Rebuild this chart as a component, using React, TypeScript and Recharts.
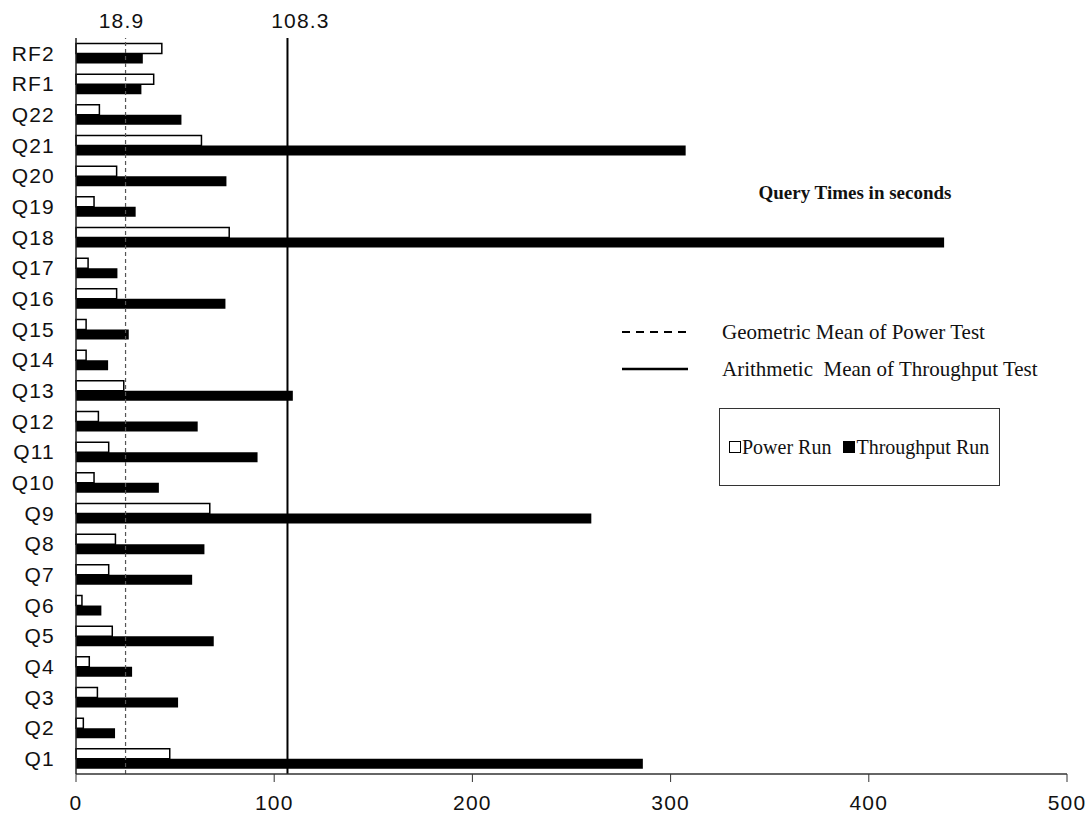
import React from 'react';
import { BarChart, Bar, XAxis, YAxis, ReferenceLine, Legend } from 'recharts';

const categories = ['Q1', 'Q2', 'Q3', 'Q4', 'Q5', 'Q6', 'Q7', 'Q8', 'Q9', 'Q10', 'Q11', 'Q12', 'Q13', 'Q14', 'Q15', 'Q16', 'Q17', 'Q18', 'Q19', 'Q20', 'Q21', 'Q22', 'RF1', 'RF2'];
const powerRun = [47.3, 3.7, 10.8, 6.7, 18.3, 3.0, 16.5, 19.9, 67.5, 9.1, 16.5, 11.3, 24.1, 5.1, 5.1, 20.5, 6.1, 77.3, 9.1, 20.5, 63.3, 11.8, 39.2, 43.3];
const throughputRun = [286, 19.7, 51.5, 28.3, 69.5, 12.8, 58.6, 64.8, 260, 41.8, 91.6, 61.4, 109.4, 16.2, 26.6, 75.4, 20.9, 438, 30.1, 75.9, 307.6, 53.2, 33.0, 33.7];
const xTicks = [0, 100, 200, 300, 400, 500];
const meanLinePositions = [25, 106.7];
const meanLineLabels = ['18.9', '108.3'];
const seriesNames = ['Power Run', 'Throughput Run'];
const lineKeyTexts = ['Geometric Mean of Power Test', 'Arithmetic  Mean of Throughput Test'];
const titleText = 'Query Times in seconds';

const data = categories.map((q, i) => ({ q, power: powerRun[i], throughput: throughputRun[i] }));

const SANS = '"Liberation Sans", Arial, sans-serif';
const SERIF = '"Liberation Serif", "Times New Roman", serif';

function MeanLabel(props: any) {
  const { viewBox, text, shift } = props;
  if (!viewBox) return null;
  return (
    <text x={viewBox.x + shift} y={viewBox.y - 10} textAnchor="middle" fontFamily={SANS} fontSize={21} letterSpacing={1.2} fill="#111">
      {text}
    </text>
  );
}

function KeyPanel(props: any) {
  const payload = props.payload || [];
  return (
    <div style={{ position: 'relative', width: 420, height: 330, fontFamily: SERIF, color: '#111' }}>
      <div style={{ position: 'absolute', left: 105, width: 300, top: 11, textAlign: 'center', fontSize: 19, fontWeight: 'bold', lineHeight: '24px' }}>
        {titleText}
      </div>
      <svg style={{ position: 'absolute', left: 22, top: 158 }} width={68} height={8}>
        <line x1={0} y1={4} x2={66} y2={4} stroke="#000" strokeWidth={2} strokeDasharray="8 6" />
      </svg>
      <div style={{ position: 'absolute', left: 122, top: 149, fontSize: 21, lineHeight: '26px', whiteSpace: 'pre' }}>{lineKeyTexts[0]}</div>
      <svg style={{ position: 'absolute', left: 22, top: 195 }} width={68} height={8}>
        <line x1={0} y1={4} x2={66} y2={4} stroke="#000" strokeWidth={2.4} />
      </svg>
      <div style={{ position: 'absolute', left: 122, top: 186, fontSize: 21, lineHeight: '26px', whiteSpace: 'pre' }}>{lineKeyTexts[1]}</div>
      <div style={{ position: 'absolute', left: 119, top: 238, width: 281, height: 78, boxSizing: 'border-box', border: '1px solid #333', display: 'flex', alignItems: 'center', paddingLeft: 9, fontSize: 20, whiteSpace: 'pre' }}>
        {payload.map((entry: any, i: number) => (
          <span key={i} style={{ display: 'inline-flex', alignItems: 'center', marginRight: i === 0 ? 12 : 0 }}>
            <span style={{ display: 'inline-block', width: 12, height: 12, boxSizing: 'border-box', border: '1.5px solid #000', background: entry.color, marginRight: 1 }} />
            <span>{entry.value}</span>
          </span>
        ))}
      </div>
    </div>
  );
}

export default function App() {
  return (
    <div style={{ position: 'absolute', left: 0, top: 0, background: '#fff' }}>
      <BarChart
        width={1092}
        height={816}
        data={data}
        layout="vertical"
        margin={{ top: 38, right: 25, bottom: 0, left: 0 }}
        barCategoryGap="18%"
        barGap={0}
      >
        <XAxis
          type="number"
          domain={[0, 500]}
          ticks={xTicks}
          height={42}
          tickSize={8}
          tickMargin={13}
          axisLine={{ stroke: '#333', strokeWidth: 1.5 }}
          tickLine={{ stroke: '#333' }}
          tick={{ fontSize: 21, fill: '#111', fontFamily: SANS, letterSpacing: 1.2 }}
        />
        <XAxis
          xAxisId="top"
          orientation="top"
          type="number"
          domain={[0, 500]}
          height={0}
          tick={false}
          tickLine={false}
          axisLine={{ stroke: '#c0c0c0', strokeWidth: 1.5 }}
        />
        <YAxis
          type="category"
          dataKey="q"
          reversed
          width={76}
          interval={0}
          tickLine={false}
          tickSize={0}
          tickMargin={21}
          axisLine={{ stroke: '#222', strokeWidth: 1.5 }}
          tick={{ fontSize: 21, fill: '#111', fontFamily: SANS, letterSpacing: 1.2 }}
        />
        <YAxis
          yAxisId="right"
          orientation="right"
          type="number"
          domain={[0, 1]}
          width={0}
          tick={false}
          tickLine={false}
          axisLine={{ stroke: '#c0c0c0', strokeWidth: 1.5 }}
        />
        <ReferenceLine
          x={meanLinePositions[0]}
          stroke="#555"
          strokeWidth={1.2}
          strokeDasharray="4 3"
          label={(p: any) => <MeanLabel {...p} text={meanLineLabels[0]} shift={-4} />}
        />
        <ReferenceLine
          x={meanLinePositions[1]}
          stroke="#000"
          strokeWidth={2}
          label={(p: any) => <MeanLabel {...p} text={meanLineLabels[1]} shift={13} />}
        />
        <Bar dataKey="power" name={seriesNames[0]} fill="#fff" stroke="#000" strokeWidth={1.5} isAnimationActive={false} />
        <Bar dataKey="throughput" name={seriesNames[1]} fill="#000" isAnimationActive={false} />
        <Legend
          layout="horizontal"
          verticalAlign="middle"
          align="center"
          wrapperStyle={{ left: 600, top: 170, width: 420, height: 330 }}
          content={(p: any) => <KeyPanel {...p} />}
        />
      </BarChart>
    </div>
  );
}
